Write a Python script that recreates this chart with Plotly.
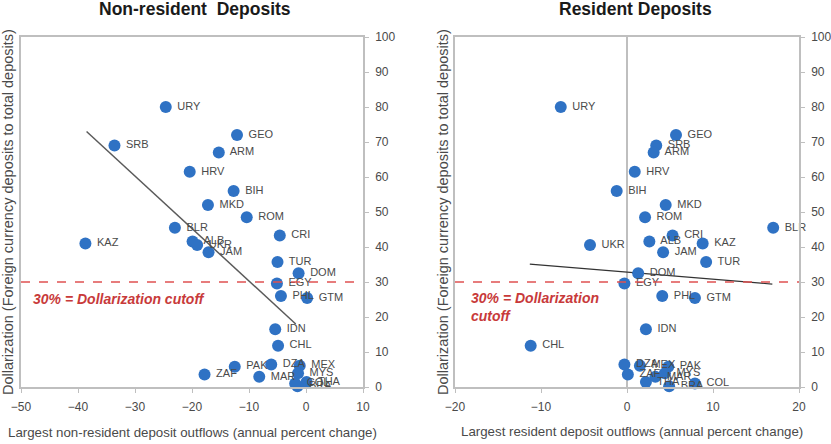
import plotly.graph_objects as go

countries = ["URY","GEO","SRB","ARM","HRV","BIH","MKD","ROM","BLR","KAZ",
             "CRI","ALB","UKR","JAM","TUR","DOM","EGY","PHL","GTM","IDN",
             "CHL","PAK","DZA","ZAF","MAR","MEX","MYS","THA","BRA","COL"]

dollarization = [80, 72, 69, 67, 61.5, 56, 52, 48.5, 45.5, 41,
                 43.3, 41.6, 40.6, 38.5, 35.7, 32.5, 29.6, 26, 25.4, 16.5,
                 11.8, 5.8, 6.4, 3.6, 2.9, 6.1, 3.9, 1.4, 0.2, 1.0]

nonres_outflow = [-24.6, -12.1, -33.6, -15.3, -20.4, -12.7, -17.2, -10.4, -23, -38.7,
                  -4.6, -19.9, -19.1, -17.1, -5, -1.3, -5.1, -4.4, 0.2, -5.4,
                  -4.9, -12.5, -6.1, -17.8, -8.2, -1.1, -1.4, 0.1, -1.5, -1.9]

res_outflow = [-7.7, 5.7, 3.4, 3.1, 0.9, -1.2, 4.5, 2.1, 17, 8.8,
               5.3, 2.6, -4.3, 4.2, 9.2, 1.3, -0.3, 4.1, 7.9, 2.2,
               -11.2, 4.8, -0.3, 0.1, 3.3, 1.5, 4.4, 2.2, 4.9, 7.9]

nonres_trend_x = [-38.5, -1.8]
nonres_trend_y = [73, 18]
res_trend_x = [-11.3, 16.9]
res_trend_y = [35.1, 29.4]

cutoff = 30
x_ticks_nonres = [-50, -40, -30, -20, -10, 0, 10]
x_ticks_res = [-20, -10, 0, 10, 20]
y_ticks = [0, 10, 20, 30, 40, 50, 60, 70, 80, 90, 100]

W, H = 831, 444
FONT = "Liberation Sans, Arial, sans-serif"
BLUE = "#2F72C4"
GREY_TXT = "#4A4A4A"
AXIS = "#BFBFBF"
RED_LINE = "#E05252"
RED_TXT = "#C83A3A"

def px_x(p):
    return p / W

def px_y(p):
    return 1 - p / H

fig = go.Figure()

fig.add_trace(go.Scatter(
    x=nonres_trend_x, y=nonres_trend_y, mode="lines",
    line=dict(color="#5A5A5A", width=1.5), xaxis="x", yaxis="y",
    hoverinfo="skip", showlegend=False))
fig.add_trace(go.Scatter(
    x=nonres_outflow, y=dollarization, mode="markers+text", text=countries,
    texttemplate=" %{text}",
    textposition="middle right", cliponaxis=False,
    textfont=dict(family=FONT, size=11, color=GREY_TXT),
    marker=dict(color=BLUE, size=12), xaxis="x", yaxis="y", showlegend=False))

fig.add_trace(go.Scatter(
    x=res_trend_x, y=res_trend_y, mode="lines",
    line=dict(color="#333333", width=1.2), xaxis="x2", yaxis="y2",
    hoverinfo="skip", showlegend=False))
fig.add_trace(go.Scatter(
    x=res_outflow, y=dollarization, mode="markers+text", text=countries,
    texttemplate=" %{text}",
    textposition="middle right", cliponaxis=False,
    textfont=dict(family=FONT, size=11, color=GREY_TXT),
    marker=dict(color=BLUE, size=12), xaxis="x2", yaxis="y2", showlegend=False))

ydom = [px_y(387), px_y(37)]

common_x = dict(showgrid=False, showline=True, linecolor=AXIS, linewidth=1.5,
                mirror=True, ticks="outside", ticklen=4, tickcolor=AXIS,
                tickfont=dict(family=FONT, size=12, color=GREY_TXT),
                ticklabelstandoff=4, automargin=False)
common_y = dict(showgrid=False, showline=True, linecolor=AXIS, linewidth=1.5,
                mirror=True, ticks="outside", ticklen=4, tickcolor=AXIS,
                side="right", range=[0, 100], tickvals=y_ticks, zeroline=False,
                tickfont=dict(family=FONT, size=12, color=GREY_TXT),
                ticklabelstandoff=4, domain=ydom, automargin=False)

fig.update_layout(
    width=W, height=H,
    margin=dict(l=0, r=0, t=0, b=0, autoexpand=False),
    paper_bgcolor="white", plot_bgcolor="white",
    xaxis=dict(domain=[px_x(21), px_x(363)], range=[-50, 10],
               tickvals=x_ticks_nonres, zeroline=False, anchor="y", **common_x),
    yaxis=dict(anchor="x", **common_y),
    xaxis2=dict(domain=[px_x(455), px_x(799)], range=[-20, 20],
                tickvals=x_ticks_res, zeroline=True, zerolinecolor=AXIS,
                zerolinewidth=1.5, anchor="y2", **common_x),
    yaxis2=dict(anchor="x2", **common_y),
)

for xr, yr in (("x", "y"), ("x2", "y2")):
    fig.add_shape(type="line", xref=f"{xr} domain", yref=yr, x0=0, x1=1,
                  y0=cutoff, y1=cutoff, line=dict(color=RED_LINE, width=1.5, dash="dash"))

ann = []
ann.append(dict(text="<b>Non-resident  Deposits</b>", x=px_x(195), y=px_y(9),
                xref="paper", yref="paper", showarrow=False,
                font=dict(family=FONT, size=17.5, color="#1a1a1a"),
                xanchor="center", yanchor="middle"))
ann.append(dict(text="<b>Resident Deposits</b>", x=px_x(635), y=px_y(9),
                xref="paper", yref="paper", showarrow=False,
                font=dict(family=FONT, size=17.5, color="#1a1a1a"),
                xanchor="center", yanchor="middle"))
ann.append(dict(text="Largest non-resident deposit outflows (annual percent change)",
                x=px_x(192), y=px_y(432), xref="paper", yref="paper", showarrow=False,
                font=dict(family=FONT, size=13.3, color=GREY_TXT),
                xanchor="center", yanchor="middle"))
ann.append(dict(text="Largest resident deposit outflows (annual percent change)",
                x=px_x(632), y=px_y(431), xref="paper", yref="paper", showarrow=False,
                font=dict(family=FONT, size=13.3, color=GREY_TXT),
                xanchor="center", yanchor="middle"))
for xc in (8, 443):
    ann.append(dict(text="Dollarization (Foreign currency deposits to total deposits)",
                    x=px_x(xc), y=px_y(212), xref="paper", yref="paper",
                    showarrow=False, textangle=-90,
                    font=dict(family=FONT, size=14.5, color=GREY_TXT),
                    xanchor="center", yanchor="middle"))
ann.append(dict(text="<b><i>30% = Dollarization cutoff</i></b>",
                x=px_x(31), y=px_y(299), xref="paper", yref="paper", showarrow=False,
                font=dict(family=FONT, size=14, color=RED_TXT),
                xanchor="left", yanchor="middle"))
ann.append(dict(text="<b><i>30% = Dollarization<br>cutoff</i></b>",
                x=px_x(469), y=px_y(307), xref="paper", yref="paper", showarrow=False,
                font=dict(family=FONT, size=14, color=RED_TXT), align="left",
                xanchor="left", yanchor="middle"))

fig.update_layout(annotations=ann)

fig.write_html("out.html")
